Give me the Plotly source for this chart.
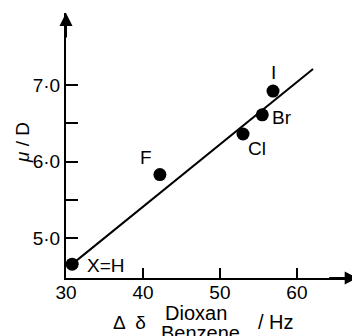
import plotly.graph_objects as go

# Data
labels = ["X=H", "F", "Cl", "Br", "I"]
delta_hz = [30.8, 42.2, 53.0, 55.5, 56.9]
mu_debye = [4.66, 5.83, 6.36, 6.61, 6.92]
fit_x = [31.4, 62.1]
fit_y = [4.71, 7.21]
x_tickvals = [30, 40, 50, 60]
x_ticktext = ["30", "40", "50", "60"]
y_tickvals = [5.0, 5.5, 6.0, 6.5, 7.0]
y_ticktext = ["5·0", "", "6·0", "", "7·0"]

# label offsets (pixels) relative to each point
label_dx = [34, -14, 14, 20, 0]
label_dy = [-1, 17, -14, -3, 19]

FONT = "Liberation Sans"
OFF = 8  # default page body margin
W, H = 360 - OFF, 336 - OFF
ML, MR, MT, MB = 66 - OFF, 0, 13 - OFF, 58
XR = [30, 68.2]
YR = [4.48, 7.94]
PW, PH = W - ML - MR, H - MT - MB


def px(p):
    return (p - OFF - ML) / PW


def py(p):
    return (H - MB - (p - OFF)) / PH


def paper_text(x, y, text, size, angle=0):
    fig.add_annotation(x=px(x), y=py(y), xref="paper", yref="paper", text=text,
                       textangle=angle, xanchor="center", yanchor="middle",
                       showarrow=False, font=dict(family=FONT, size=size, color="black"))


fig = go.Figure()
fig.add_trace(go.Scatter(x=fit_x, y=fit_y, mode="lines",
                         line=dict(color="black", width=2), showlegend=False))
fig.add_trace(go.Scatter(x=delta_hz, y=mu_debye, mode="markers",
                         marker=dict(color="black", size=13), showlegend=False))

for lab, x, y, dx, dy in zip(labels, delta_hz, mu_debye, label_dx, label_dy):
    fig.add_annotation(x=x, y=y, text=lab, showarrow=False, xshift=dx, yshift=dy,
                       xanchor="center", yanchor="middle",
                       font=dict(family=FONT, size=19, color="black"))

# axis arrows
fig.add_annotation(x=30, y=7.94, ax=30, ay=7.6, xref="x", yref="y", axref="x", ayref="y",
                   showarrow=True, arrowhead=2, arrowsize=1.3, arrowwidth=2, arrowcolor="black", text="")
fig.add_annotation(x=67.9, y=4.48, ax=64, ay=4.48, xref="x", yref="y", axref="x", ayref="y",
                   showarrow=True, arrowhead=2, arrowsize=1.3, arrowwidth=2, arrowcolor="black", text="")

# axis titles
paper_text(22, 143, "<i>μ</i> / D", 19, angle=-90)
paper_text(129, 322, "Δ  δ", 19)
paper_text(196, 313, "Dioxan", 20)
paper_text(200, 333, "Benzene", 20)
paper_text(276, 322, "/ Hz", 20)

fig.update_xaxes(range=XR, showgrid=False, zeroline=False, showline=True, linecolor="black",
                 linewidth=2, ticks="inside", ticklen=10, tickwidth=2, tickcolor="black",
                 tickvals=x_tickvals, ticktext=x_ticktext, ticklabelstandoff=-4,
                 tickfont=dict(family=FONT, size=19, color="black"))
fig.update_yaxes(range=YR, showgrid=False, zeroline=False, showline=True, linecolor="black",
                 linewidth=2, ticks="inside", ticklen=12, tickwidth=2, tickcolor="black",
                 tickvals=y_tickvals, ticktext=y_ticktext,
                 tickfont=dict(family=FONT, size=19, color="black"))
fig.update_layout(width=W, height=H, margin=dict(l=ML, r=MR, t=MT, b=MB),
                  plot_bgcolor="white", paper_bgcolor="white")
fig.write_html("out.html")
